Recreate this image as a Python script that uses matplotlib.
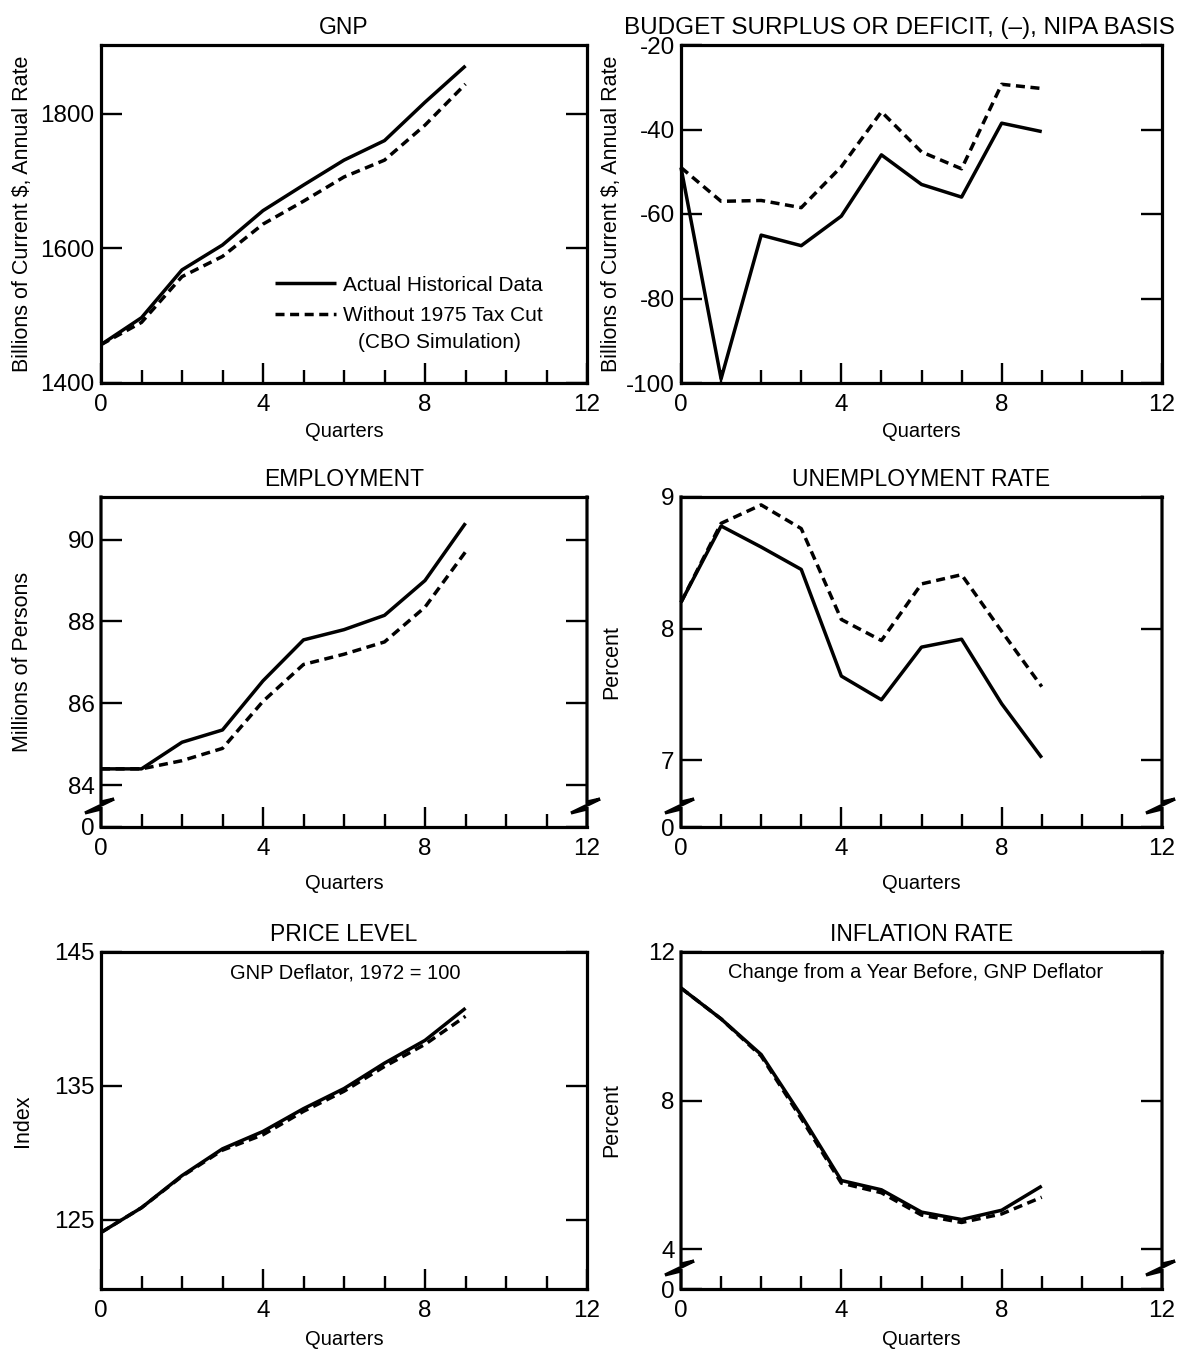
import matplotlib
matplotlib.use('Agg')
import matplotlib.pyplot as plt

plt.rcParams['font.family'] = ['Liberation Sans', 'DejaVu Sans']
plt.rcParams['axes.unicode_minus'] = False

# ---------------- data ----------------
quarters = [0, 1, 2, 3, 4, 5, 6, 7, 8, 9]

gnp_actual = [1457, 1497, 1568, 1605, 1656, 1694, 1731, 1760, 1817, 1871]
gnp_without = [1457, 1490, 1558, 1588, 1636, 1670, 1706, 1731, 1783, 1844]

budget_actual = [-49, -99, -65, -67.5, -60.5, -46, -53, -56, -38.5, -40.5]
budget_without = [-49, -57, -56.8, -58.5, -48.8, -35.8, -45.3, -49.3, -29.3, -30.3]

emp_actual = [84.4, 84.4, 85.05, 85.35, 86.55, 87.55, 87.8, 88.15, 89.0, 90.4]
emp_without = [84.4, 84.4, 84.6, 84.9, 86.05, 86.95, 87.2, 87.5, 88.35, 89.7]

unemp_actual = [8.2, 8.78, 8.62, 8.45, 7.64, 7.46, 7.86, 7.92, 7.43, 7.02]
unemp_without = [8.2, 8.8, 8.94, 8.76, 8.07, 7.91, 8.34, 8.41, 7.98, 7.56]

price_actual = [124.05, 125.9, 128.3, 130.3, 131.6, 133.3, 134.8, 136.7, 138.4, 140.8]
price_without = [124.05, 125.9, 128.25, 130.2, 131.35, 133.1, 134.6, 136.45, 138.1, 140.2]

infl_actual = [11.03, 10.2, 9.24, 7.6, 5.85, 5.6, 5.0, 4.8, 5.05, 5.7]
infl_without = [11.03, 10.2, 9.2, 7.52, 5.78, 5.52, 4.92, 4.72, 4.95, 5.4]

x_ticks = [0, 4, 8, 12]
x_ticklabels = ['0', '4', '8', '12']

titles = ['GNP', 'BUDGET SURPLUS OR DEFICIT, (\u2013), NIPA BASIS',
          'EMPLOYMENT', 'UNEMPLOYMENT RATE', 'PRICE LEVEL', 'INFLATION RATE']
ylabels = ['Billions of Current $, Annual Rate', 'Billions of Current $, Annual Rate',
           'Millions of Persons', 'Percent', 'Index', 'Percent']

gnp_yticks = [1400, 1600, 1800]
gnp_ylabels = ['1400', '1600', '1800']
budget_yticks = [-100, -80, -60, -40, -20]
budget_ylabels = ['-100', '-80', '-60', '-40', '-20']
emp_yticks = [82.98, 84, 86, 88, 90]
emp_ylabels = ['0', '84', '86', '88', '90']
unemp_yticks = [6.494, 7, 8, 9]
unemp_ylabels = ['0', '7', '8', '9']
price_yticks = [125, 135, 145]
price_ylabels = ['125', '135', '145']
infl_yticks = [2.93, 4, 8, 12]
infl_ylabels = ['0', '4', '8', '12']

legend_labels = ['Actual Historical Data', 'Without 1975 Tax Cut']
legend_note = '(CBO Simulation)'
price_note = 'GNP Deflator, 1972 = 100'
infl_note = 'Change from a Year Before, GNP Deflator'

# ---------------- figure ----------------
W, H = 1182, 1356
fig = plt.figure(figsize=(W / 100, H / 100), dpi=100)

def add_axes(l, r, t, b):
    return fig.add_axes([l / W, 1 - b / H, (r - l) / W, (b - t) / H])

LC = (101, 587)
RC = (681, 1162)
R1 = (45, 383)
R2 = (497, 827)
R3 = (952, 1289)

axes = [add_axes(LC[0], LC[1], *R1), add_axes(RC[0], RC[1], *R1),
        add_axes(LC[0], LC[1], *R2), add_axes(RC[0], RC[1], *R2),
        add_axes(LC[0], LC[1], *R3), add_axes(RC[0], RC[1], *R3)]

series = [(gnp_actual, gnp_without), (budget_actual, budget_without),
          (emp_actual, emp_without), (unemp_actual, unemp_without),
          (price_actual, price_without), (infl_actual, infl_without)]
ylims = [(1400, 1902), (-100, -20), (82.98, 91.04), (6.494, 9.0), (119.83, 145), (2.93, 12)]
yticks = [gnp_yticks, budget_yticks, emp_yticks, unemp_yticks, price_yticks, infl_yticks]
ytls = [gnp_ylabels, budget_ylabels, emp_ylabels, unemp_ylabels, price_ylabels, infl_ylabels]
broken = [False, False, True, True, False, True]
xlabelpads = [4, 4, 10, 10, 6, 6]

LW = 2.5
SP = 2.3
handles = None
for i, ax in enumerate(axes):
    a, w = series[i]
    h1, = ax.plot(quarters, a, color='black', lw=LW, solid_joinstyle='round',
                  solid_capstyle='butt', clip_on=False)
    h2, = ax.plot(quarters, w, color='black', lw=LW, linestyle=(0, (2.6, 1.6)),
                  dash_capstyle='butt', clip_on=False)
    if i == 0:
        handles = [h1, h2]
    ax.set_xlim(0, 12)
    ax.set_ylim(*ylims[i])
    ax.set_xticks(x_ticks)
    ax.set_xticklabels(x_ticklabels)
    ax.set_xticks(list(range(13)), minor=True)
    ax.tick_params(axis='x', which='major', direction='in', length=14.5, width=1.7,
                   labelsize=17.5, pad=8, top=False, bottom=True)
    ax.tick_params(axis='x', which='minor', direction='in', length=9.5, width=1.7,
                   top=False, bottom=True)
    ax.set_yticks(yticks[i])
    ax.set_yticklabels(ytls[i])
    ax.tick_params(axis='y', which='major', direction='in', length=15, width=1.7,
                   left=True, right=True, labelsize=17.5, pad=4.5)
    for s in ax.spines.values():
        s.set_linewidth(SP)
    ax.set_xlabel('Quarters', fontsize=14.5, labelpad=xlabelpads[i])
    ax.set_ylabel(ylabels[i], fontsize=15.5)
    left_col = (i % 2 == 0)
    ax.yaxis.set_label_coords(-0.14 if left_col else -0.1227, 0.5)
    if i == 1:
        ax.set_title(titles[i], fontsize=17.5, pad=8, x=0.455)
    else:
        ax.set_title(titles[i], fontsize=16.5, pad=8)

    if broken[i]:
        ax.spines['left'].set_visible(False)
        ax.spines['right'].set_visible(False)
        pos = ax.get_position()
        wpx = pos.width * W
        hpx = pos.height * H
        ys = [1, 25 / hpx, 28 / hpx, 14 / hpx, 18 / hpx, 0]
        for x0 in (0, 1):
            xs = [x0, x0, x0 + 13 / wpx, x0 - 16 / wpx, x0, x0]
            ax.plot(xs, ys, transform=ax.transAxes, color='black', lw=SP,
                    clip_on=False, solid_joinstyle='miter', solid_capstyle='projecting')

# legend on GNP panel
ax0 = axes[0]
ax0.legend(handles, legend_labels, loc='upper left', bbox_to_anchor=(0.358, 0.318),
           frameon=False, fontsize=15, handlelength=2.95, handletextpad=0.3,
           labelspacing=0.55, borderpad=0, borderaxespad=0)
ax0.text((358 - 101) / 486, (383 - 342) / 338, legend_note, transform=ax0.transAxes,
         ha='left', va='center', fontsize=15)

axes[4].text(0.502, 0.938, price_note, transform=axes[4].transAxes,
             ha='center', va='center', fontsize=14.5)
axes[5].text(0.488, 0.938, infl_note, transform=axes[5].transAxes,
             ha='center', va='center', fontsize=14.5)

fig.savefig('out.png', dpi=100)
